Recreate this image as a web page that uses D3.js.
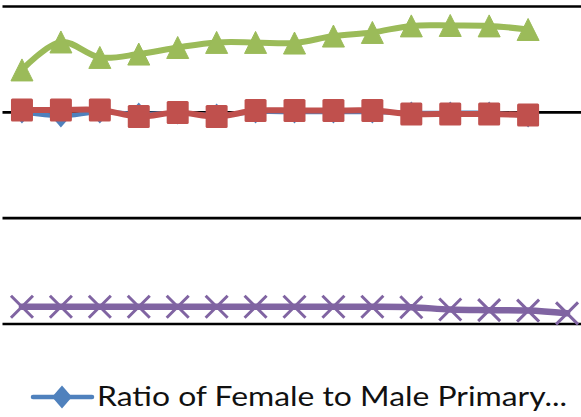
<!DOCTYPE html>
<html>
<head>
<meta charset="utf-8">
<script src="https://cdn.jsdelivr.net/npm/d3@7"></script>
<style>
  html, body { margin: 0; padding: 0; background: #fff; }
  svg { display: block; }
</style>
</head>
<body>
<svg id="chart" width="581" height="417"></svg>
<script>
// Category positions along the x axis
const categories = ["1","2","3","4","5","6","7","8","9","10","11","12","13","14","15"];

// Series values (ratios)
const primaryRatio   = [0.999, 0.980, 0.999, 0.990, 0.995, 0.985, 0.999, 0.999, 0.999, 0.999, 0.995, 0.995, 0.995, 0.980, null];
const secondaryRatio = [1.009, 1.009, 1.009, 0.978, 0.997, 0.978, 1.006, 1.006, 1.006, 1.006, 0.990, 0.990, 0.990, 0.985, null];
const tertiaryRatio  = [1.198, 1.330, 1.257, 1.273, 1.304, 1.328, 1.328, 1.325, 1.358, 1.375, 1.406, 1.408, 1.406, 1.389, null];
const fourthSeries   = [0.079, 0.079, 0.079, 0.079, 0.079, 0.079, 0.079, 0.079, 0.079, 0.079, 0.077, 0.066, 0.063, 0.061, 0.048];

// Gridline values
const yTicks = [0, 0.5, 1.0, 1.5];

const legendLabel = "Ratio of Female to Male Primary...";

const svg = d3.select("#chart");

const x = d3.scaleBand().domain(categories).range([2.5, 586.5]);
const y = d3.scaleLinear().domain([0, 1.5]).range([323.5, 6]);
const cx = c => x(c) + x.bandwidth() / 2;

// Horizontal gridlines
svg.append("g")
  .attr("transform", "translate(2.5,0)")
  .call(d3.axisLeft(y).tickValues(yTicks).tickSize(-(586.5 - 2.5)).tickFormat(""))
  .call(g => g.select(".domain").remove())
  .call(g => g.selectAll(".tick line").attr("stroke", "#000").attr("stroke-width", 2.6));

const line = d3.line()
  .defined(d => d.v != null)
  .x(d => cx(d.c))
  .y(d => y(d.v))
  .curve(d3.curveCatmullRom.alpha(0.5));

const pts = arr => categories.map((c, i) => ({ c, v: arr[i] }));

const series = [
  { data: primaryRatio,   color: "#4F81BD", width: 4.5, marker: "diamond" },
  { data: secondaryRatio, color: "#C0504D", width: 6,   marker: "square" },
  { data: tertiaryRatio,  color: "#9BBB59", width: 6,   marker: "triangle" },
  { data: fourthSeries,   color: "#8064A2", width: 6.5, marker: "x" }
];

function drawMarker(g, kind, color) {
  if (kind === "diamond") {
    g.append("path").attr("d", "M0,-11.5L10,0L0,11.5L-10,0Z").attr("fill", color);
  } else if (kind === "square") {
    g.append("rect").attr("x", -11).attr("y", -11.5).attr("width", 22).attr("height", 23)
      .attr("rx", 1.5).attr("fill", color);
  } else if (kind === "triangle") {
    g.append("path").attr("d", "M0,-11L11,11L-11,11Z").attr("fill", color)
      .attr("stroke", color).attr("stroke-width", 1).attr("stroke-linejoin", "round");
  } else if (kind === "x") {
    g.append("path").attr("d", "M-11,-11L11,11M-11,11L11,-11")
      .attr("stroke", color).attr("stroke-width", 3).attr("fill", "none");
  }
}

series.forEach(s => {
  const data = pts(s.data);
  svg.append("path")
    .datum(data)
    .attr("fill", "none")
    .attr("stroke", s.color)
    .attr("stroke-width", s.width)
    .attr("stroke-linejoin", "round")
    .attr("stroke-linecap", "round")
    .attr("d", line);
  svg.append("g").selectAll("g")
    .data(data.filter(d => d.v != null))
    .join("g")
    .attr("transform", d => `translate(${cx(d.c)},${y(d.v)})`)
    .each(function () { drawMarker(d3.select(this), s.marker, s.color); });
});

// Legend
const lg = svg.append("g").attr("transform", "translate(0,397)");
lg.append("line").attr("x1", 33).attr("x2", 92).attr("y1", 0).attr("y2", 0)
  .attr("stroke", "#4F81BD").attr("stroke-width", 4.5).attr("stroke-linecap", "round");
drawMarker(lg.append("g").attr("transform", "translate(62,0)"), "diamond", "#4F81BD");
lg.append("text")
  .attr("x", 97).attr("y", 8.5)
  .attr("font-family", "Lato, 'Open Sans', sans-serif")
  .attr("font-size", 27)
  .attr("fill", "#111")
  .attr("textLength", 470)
  .attr("lengthAdjust", "spacingAndGlyphs")
  .text(legendLabel);
</script>
</body>
</html>
